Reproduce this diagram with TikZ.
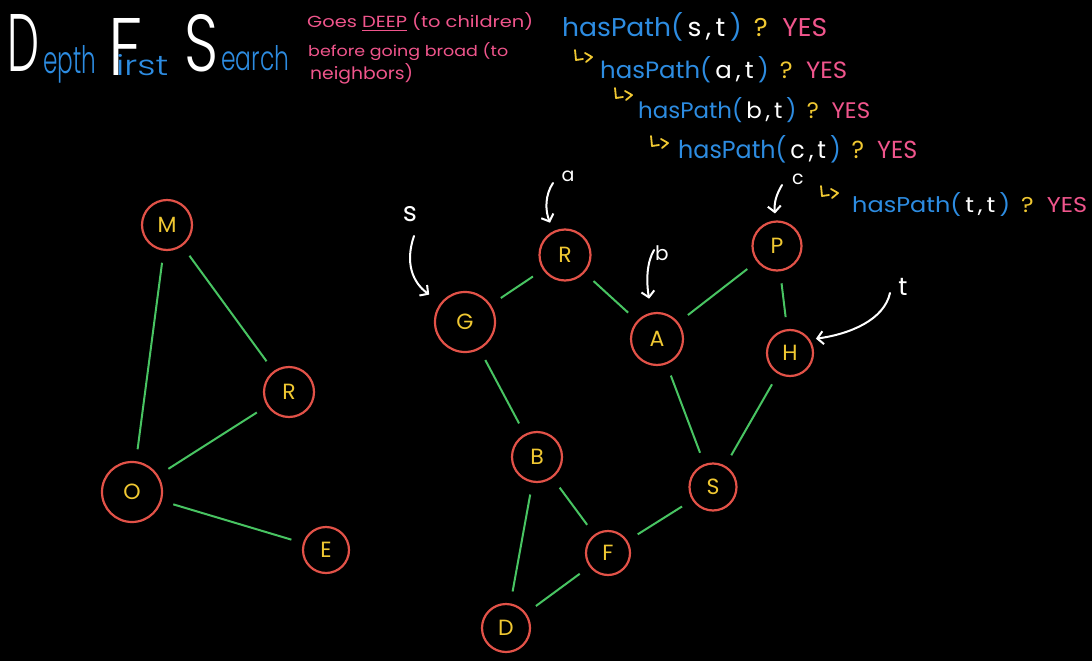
\documentclass[tikz,border=0pt]{standalone}
\usepackage{fontspec}
\setmainfont{Poppins}
\newfontfamily\titlefont{Poppins Light}
\usetikzlibrary{arrows.meta}

\definecolor{nodered}{RGB}{226,82,72}
\definecolor{linkgreen}{RGB}{72,196,98}
\definecolor{nodeyellow}{RGB}{240,200,50}
\definecolor{hpblue}{RGB}{45,140,225}
\definecolor{pinktxt}{RGB}{240,85,140}

% one line of the recursion trace: hasPath(#1,#2) ? YES
\newcommand\hpcall[2]{\textcolor{hpblue}{hasPath(}\,\textcolor{white}{#1\,,\,#2}\,\textcolor{hpblue}{)}\hspace{0.45em}\textcolor{nodeyellow}{?}\hspace{0.55em}\textcolor{pinktxt}{YES}}

\tikzset{
  vtx/.style={circle, draw=nodered, line width=2.2pt, text=nodeyellow,
    font=\fontsize{22}{22}\selectfont, inner sep=0pt, minimum size=#1},
  vtx/.default=48pt,
  link/.style={draw=linkgreen, line width=2pt, shorten <=12pt, shorten >=12pt},
  pointer/.style={draw=white, line width=2pt, line cap=round,
    -{Straight Barb[length=6pt,width=13pt,line width=2pt]}},
  tag/.style={text=white, inner sep=0pt},
  txt/.style={anchor=base west, inner sep=0pt},
  retline/.style={draw=nodeyellow, line width=1.8pt, line cap=round, line join=round},
  ret/.pic={\draw[retline] (0,0) -- (1,10) -- (8,9);
            \draw[retline] (10,3) -- (17,7) -- (11,12);}
}

\begin{document}
\begin{tikzpicture}[x=1pt,y=-1pt]
\fill[black] (0,0) rectangle (1092,661);
\useasboundingbox (0,0) rectangle (1092,661);

% ---- title: big white capitals, small blue rest of each word ----
\node[txt] (tDepth) at (7,71) {\titlefont
  \textcolor{white}{\resizebox{32pt}{57pt}{D}}\hspace{4pt}%
  \raisebox{-2pt}{\textcolor{hpblue}{\resizebox{53pt}{28pt}{epth}}}};
\node[txt] (tFirst) at (108,75) {\titlefont
  \textcolor{white}{\resizebox{34pt}{57pt}{F}}\hspace{-26pt}%
  \textcolor{hpblue}{\resizebox{52pt}{21pt}{irst}}};
\node[txt] (tSearch) at (184,71) {\titlefont
  \textcolor{white}{\resizebox{34pt}{57pt}{S}}\hspace{3pt}%
  \textcolor{hpblue}{\resizebox{68pt}{25pt}{earch}}};

% ---- note in pink ----
\node[txt,text=pinktxt] (p1) at (307,28) {\resizebox{226pt}{15pt}{Goes \underline{DEEP} (to children)}};
\node[txt,text=pinktxt] (p2) at (308,57) {\resizebox{200pt}{14pt}{before going broad (to}};
\node[txt,text=pinktxt] (p3) at (310,80) {\resizebox{103pt}{16pt}{neighbors)}};

% ---- recursion trace ----
\node[txt] (h1) at (562,37)  {\resizebox{265pt}{24pt}{\fontsize{30}{30}\selectfont\hpcall{s}{t}}};
\node[txt] (h2) at (600,78)  {\resizebox{247pt}{22pt}{\fontsize{30}{30}\selectfont\hpcall{a}{t}}};
\node[txt] (h3) at (638,118) {\resizebox{232pt}{21pt}{\fontsize{30}{30}\selectfont\hpcall{b}{t}}};
\node[txt] (h4) at (678,158) {\resizebox{239pt}{23pt}{\fontsize{30}{30}\selectfont\hpcall{c}{t}}};
\node[txt] (h5) at (852,212) {\resizebox{235pt}{20pt}{\fontsize{30}{30}\selectfont\hpcall{t}{t}}};
\pic at (575,50) {ret};
\pic at (615,88) {ret};
\pic at (651,136) {ret};
\pic at (821,186) {ret};

% ---- left graph ----
\node[vtx=50pt] (M)  at (167,225) {M};
\node[vtx=50pt] (lR) at (289,392) {R};
\node[vtx=60pt] (O)  at (132,492) {O};
\node[vtx=46pt] (E)  at (326,550) {E};
\draw[link] (M) -- (O);
\draw[link] (M) -- (lR);
\draw[link] (lR) -- (O);
\draw[link] (O) -- (E);

% ---- right graph ----
\node[vtx=51pt] (rR) at (565,255) {R};
\node[vtx=60pt] (G)  at (465,322) {G};
\node[vtx=52pt] (A)  at (657,339) {A};
\node[vtx=49pt] (P)  at (777,246) {P};
\node[vtx=46pt] (H)  at (790,353) {H};
\node[vtx=50pt] (B)  at (537,457) {B};
\node[vtx=47pt] (SS) at (713,487) {S};
\node[vtx=44pt] (F)  at (608,553) {F};
\node[vtx=48pt] (D)  at (506,628) {D};
\draw[link] (G) -- (rR);
\draw[link] (rR) -- (A);
\draw[link] (A) -- (P);
\draw[link] (P) -- (H);
\draw[link] (G) -- (B);
\draw[link] (A) -- (SS);
\draw[link] (H) -- (SS);
\draw[link] (B) -- (F);
\draw[link] (B) -- (D);
\draw[link] (F) -- (SS);
\draw[link] (F) -- (D);

% ---- pointers ----
\node[tag,font=\fontsize{27}{27}\selectfont] (ls) at (410,214) {s};
\node[tag,font=\fontsize{19}{19}\selectfont] (la) at (568,176) {a};
\node[tag,font=\fontsize{20}{20}\selectfont] (lb) at (662,253) {b};
\node[tag,font=\fontsize{19}{19}\selectfont] (lc) at (798,179) {c};
\node[tag,font=\fontsize{25}{25}\selectfont] (lt) at (903,287) {t};
\coordinate (sTail) at (414,236);
\coordinate (aTail) at (553,183);
\coordinate (bTail) at (654,250);
\coordinate (cTail) at (782,185);
\coordinate (tTail) at (890,293);
\draw[pointer, shorten >=14pt] (sTail) .. controls (405,262) and (412,282) .. (G.142);
\draw[pointer, shorten >=9pt]  (aTail) .. controls (545,195) and (545,210) .. (rR.116);
\draw[pointer, shorten >=14pt] (bTail) .. controls (647,262) and (646,280) .. (A.102);
\draw[pointer, shorten >=7pt]  (cTail) .. controls (776,195) and (774,203) .. (P.93);
\draw[pointer, shorten >=6pt]  (tTail) .. controls (884,320) and (850,334) .. (H.34);
\end{tikzpicture}
\end{document}
